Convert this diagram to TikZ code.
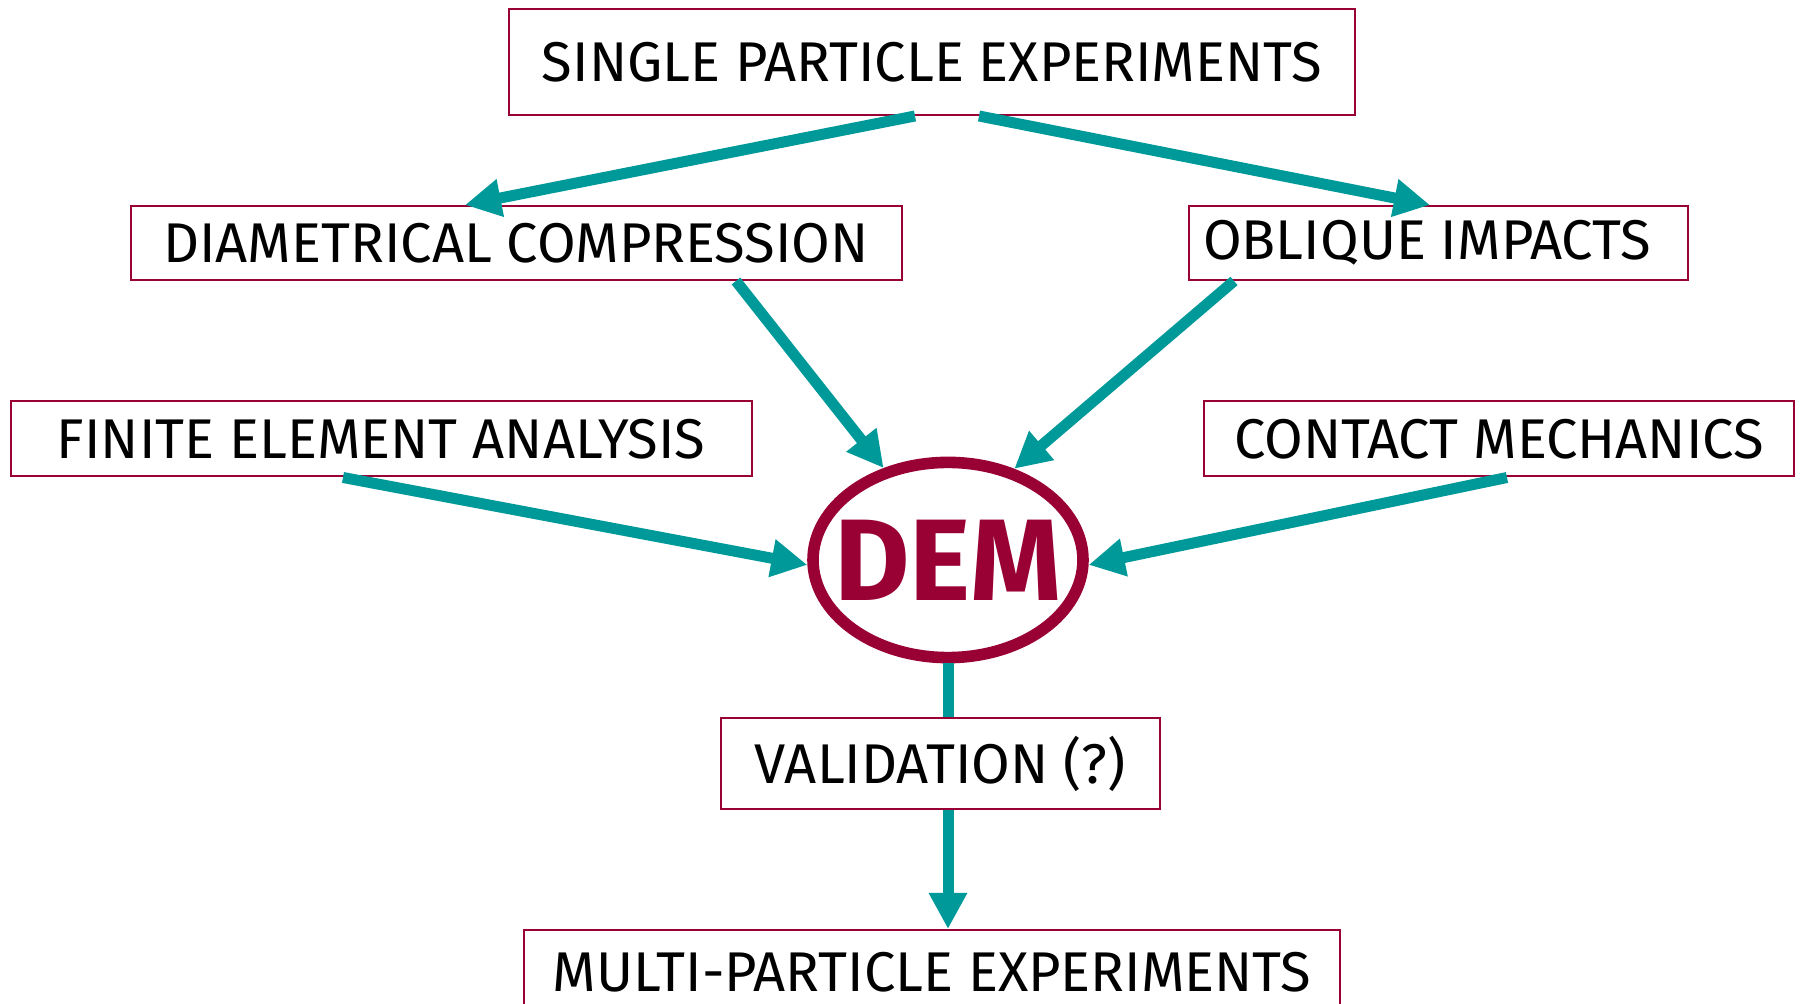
\documentclass[tikz,border=0pt]{standalone}
\usepackage{fontspec}
\setmainfont{Fira Sans}
\usetikzlibrary{arrows.meta,shapes.geometric}
\definecolor{crim}{HTML}{990033}
\definecolor{tealc}{HTML}{009999}
\begin{document}
\begin{tikzpicture}[x=0.5pt,y=-0.5pt,
  box/.style={draw=crim,line width=1pt,inner sep=0pt,text=black,font=\fontsize{28}{30}\selectfont},
  arr/.style={draw=tealc,line width=5.5pt,-{Triangle[length=18pt,width=18pt]}},
  link/.style={draw=tealc,line width=5.5pt}]
\useasboundingbox (0,0) rectangle (1801,1004);
\node[box,minimum width=423pt,minimum height=53pt] (top) at (932,62) {SINGLE PARTICLE EXPERIMENTS};
\node[box,minimum width=385.5pt,minimum height=37pt] (diam) at (516,243) {DIAMETRICAL COMPRESSION};
\node[box,minimum width=249.5pt,minimum height=37pt] (obl) at (1438,243) {\hspace*{-11pt}OBLIQUE IMPACTS};
\node[box,minimum width=370.5pt,minimum height=37.5pt] (fea) at (381,439) {FINITE ELEMENT ANALYSIS};
\node[box,minimum width=295pt,minimum height=37.5pt] (con) at (1499,439) {CONTACT MECHANICS};
\node[ellipse,draw=crim,line width=5.8pt,minimum width=135pt,minimum height=97.6pt,inner sep=0pt,
      text=crim,font=\fontsize{58}{58}\selectfont\bfseries] (dem) at (948,560) {\makebox[0pt]{DEM}};
\node[box,minimum width=219.5pt,minimum height=45.5pt] (val) at (940,764) {VALIDATION (?)};
\node[box,minimum width=408pt,minimum height=45pt] (multi) at (932,975) {\raisebox{3.5pt}{MULTI-PARTICLE EXPERIMENTS}};
\draw[arr] ([xshift=-8.5pt]top.south) -- ([xshift=-25.5pt]diam.north);
\draw[arr] ([xshift=23.5pt]top.south) -- ([xshift=-4pt]obl.north);
\draw[arr] ([xshift=110pt]diam.south) -- (dem.125);
\draw[arr] ([xshift=-102pt]obl.south) -- (dem.54);
\draw[arr] ([xshift=-19pt]fea.south) -- (dem.182);
\draw[arr] ([xshift=4pt]con.south) -- (dem.-2);
\draw[link] (dem.south) -- (dem.south |- val.north);
\draw[arr] (dem.south |- val.south) -- (dem.south |- multi.north);
\end{tikzpicture}
\end{document}
